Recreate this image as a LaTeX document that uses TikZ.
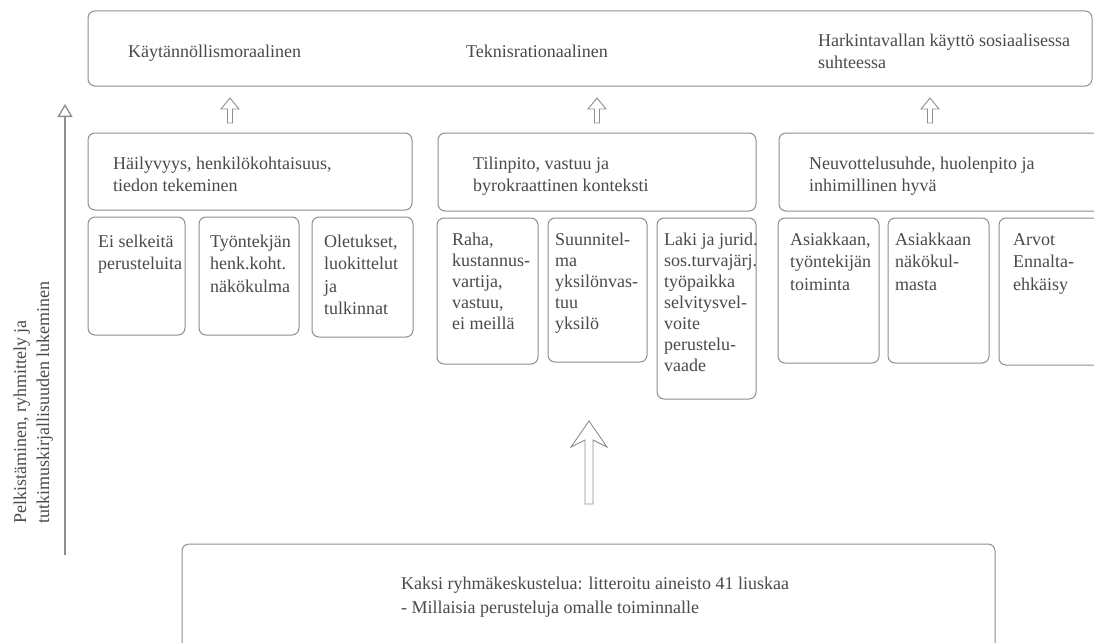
\documentclass[tikz,border=0pt]{standalone}
\usepackage{fontspec}
\setmainfont{Liberation Serif}
\usetikzlibrary{arrows.meta}
\definecolor{linegray}{HTML}{8E8E8E}
\definecolor{textgray}{HTML}{4A4A4A}
\newcommand\fst{\rule{0pt}{16pt}}
\newcommand\bx[5]{\node[box, anchor=north west, minimum width=#4pt, minimum height=#5pt] (#1) at (#2,#3) {};}
\newcommand\smallarr[1]{\draw[blk] (#1,98) -- (#1+9,109) -- (#1+2.5,109) -- (#1+2.5,123) -- (#1-2.5,123) -- (#1-2.5,109) -- (#1-9,109) -- cycle;}
\begin{document}
\begin{tikzpicture}[x=1pt,y=-1pt,
  box/.style={draw=linegray, line width=1pt, rounded corners=7pt, fill=white, inner sep=0pt, outer sep=0pt},
  lbl/.style={anchor=north west, inner sep=0pt, align=left, text=textgray, font=\fontsize{18}{22.5}\selectfont},
  lblb/.style={lbl, font=\fontsize{18}{21}\selectfont},
  lblc/.style={lbl, font=\fontsize{18}{24}\selectfont},
  blk/.style={draw=linegray, line width=0.9pt, fill=white, line join=miter}]
\useasboundingbox (0,0) rectangle (1094,642);
\clip (0,0) rectangle (1094,642);

% boxes
\bx{top}{88}{11}{1004}{75}
\bx{m1}{88}{133}{324}{77}
\bx{m2}{438}{133}{318}{78}
\bx{m3}{779}{133}{340}{78}
\bx{s11}{88}{217}{97}{118}
\bx{s12}{199}{217}{100}{118}
\bx{s13}{312}{217}{101}{120}
\bx{s21}{437}{218}{101}{146}
\bx{s22}{548}{218}{99}{144}
\bx{s23}{657}{218}{99}{181}
\bx{s31}{778}{218}{101}{145}
\bx{s32}{888}{218}{101}{145}
\bx{s33}{999}{218}{120}{147}
\bx{bot}{182}{544}{813}{130}

% top texts
\node[lbl] (ttop1) at (128,41) {\fst Käytännöllismoraalinen};
\node[lbl] (ttop2) at (466,41) {\fst Teknisrationaalinen};
\node[lbl] (ttop3) at (818,30) {\fst Harkintavallan käyttö sosiaalisessa\\suhteessa};

% middle texts
\node[lbl] (tm1) at (113,153) {\fst Häilyvyys, henkilökohtaisuus,\\tiedon tekeminen};
\node[lbl] (tm2) at (473,153) {\fst Tilinpito, vastuu ja\\byrokraattinen konteksti};
\node[lbl] (tm3) at (809,153) {\fst Neuvottelusuhde, huolenpito ja\\inhimillinen hyvä};

% small box texts
\node[lbl] (ts11) at (98,231) {\fst Ei selkeitä\\perusteluita};
\node[lbl] (ts12) at (210,231) {\fst Työntekjän\\henk.koht.\\näkökulma};
\node[lbl] (ts13) at (324,231) {\fst Oletukset,\\luokittelut\\ja\\tulkinnat};
\node[lblb] (ts21) at (452,229) {\fst Raha,\\kustannus-\\vartija,\\vastuu,\\ei meillä};
\node[lblb] (ts22) at (555,229) {\fst Suunnitel-\\ma\\yksilönvas-\\tuu\\yksilö};
\node[lblb] (ts23) at (664,229) {\fst Laki ja jurid.\\sos.turvajärj.\\työpaikka\\selvitysvel-\\voite\\perustelu-\\vaade};
\node[lbl] (ts31) at (790,229) {\fst Asiakkaan,\\työntekijän\\toiminta};
\node[lbl] (ts32) at (895,229) {\fst Asiakkaan\\näkökul-\\masta};
\node[lbl] (ts33) at (1013,229) {\fst Arvot\\Ennalta-\\ehkäisy};

% bottom text
\node[lblc] (tbot) at (401,573) {\fst Kaksi ryhmäkeskustelua: litteroitu aineisto 41 liuskaa\\- Millaisia perusteluja omalle toiminnalle};

% side axis
\node[anchor=base west, rotate=90, inner sep=0pt, text=textgray, font=\fontsize{18}{22}\selectfont] (ax1) at (26,524) {Pelkistäminen, ryhmittely ja};
\node[anchor=base west, rotate=90, inner sep=0pt, text=textgray, font=\fontsize{18}{22}\selectfont] (ax2) at (49,524) {tutkimuskirjallisuuden lukeminen};
\coordinate (axb) at (65,555);
\coordinate (axt) at (65,104);
\draw[linegray, line width=1.3pt, -{Triangle[open, length=13pt, width=15pt, fill=white]}] (axb) -- (axt);

% small block arrows
\smallarr{230}
\smallarr{597}
\smallarr{930}

% big block arrow
\draw[blk] (589,421) -- (607,447) -- (593,440) -- (593,504) -- (585,504) -- (585,440) -- (571,447) -- cycle;
\end{tikzpicture}
\end{document}
